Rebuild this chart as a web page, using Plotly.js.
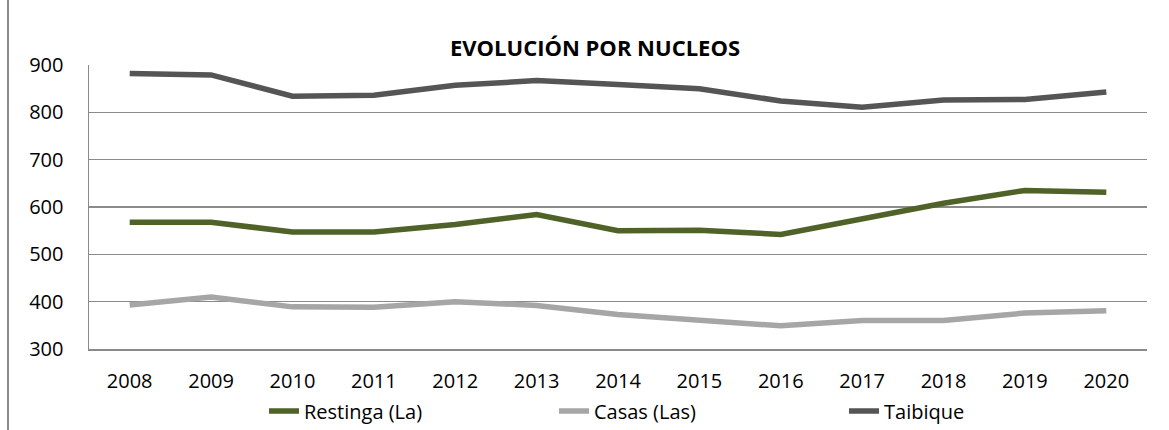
<!DOCTYPE html>
<html>
<head>
<meta charset="utf-8">
<script src="https://cdn.plot.ly/plotly-3.0.1.min.js"></script>
<style>
html,body{margin:0;padding:0;background:#fff;}
#frame{position:absolute;left:7px;top:0;width:1162px;height:430px;border-left:2px solid #8a8a8a;}
#chart{position:absolute;left:0;top:0;width:1169px;height:430px;}
</style>
</head>
<body>
<div id="frame"></div>
<div id="chart"></div>
<script>
const years = ['2008','2009','2010','2011','2012','2013','2014','2015','2016','2017','2018','2019','2020'];
const restinga = [568, 568, 547, 547, 563, 584, 550, 551, 542, 575, 608, 635, 631];
const casas    = [393, 410, 389, 388, 400, 392, 373, 361, 349, 360, 360, 376, 381];
const taibique = [882, 879, 834, 836, 857, 867, 859, 850, 824, 811, 826, 827, 843];
const seriesNames = ['Restinga (La)', 'Casas (Las)', 'Taibique'];
const seriesColors = ['#4F6228', '#A6A6A6', '#555555'];
const seriesValues = [restinga, casas, taibique];

const FONT = 'Open Sans, Liberation Sans, sans-serif';

const traces = seriesValues.map((vals, i) => ({
  type: 'scatter',
  mode: 'lines',
  x: years,
  y: vals,
  name: seriesNames[i],
  line: {color: seriesColors[i], width: 5.5},
  hoverinfo: 'x+y+name'
}));

const layout = {
  width: 1169,
  height: 430,
  margin: {l: 89, r: 22, t: 65, b: 81, pad: 0, autoexpand: false},
  paper_bgcolor: 'rgba(0,0,0,0)',
  plot_bgcolor: '#ffffff',
  font: {family: FONT, size: 20, color: '#000'},
  title: {
    text: 'EVOLUCIÓN POR NUCLEOS',
    font: {family: FONT, size: 22, color: '#000', weight: 'bold'},
    x: 595/1169, xanchor: 'center',
    y: 1 - 48/430, yanchor: 'middle'
  },
  xaxis: {
    type: 'category',
    range: [-0.5, years.length - 0.5],
    showgrid: false,
    showline: true,
    linecolor: '#8a8a8a',
    linewidth: 1.5,
    ticks: '',
    ticklabelstandoff: 13,
    tickfont: {family: FONT, size: 20, color: '#000'},
    zeroline: false,
    fixedrange: true
  },
  yaxis: {
    range: [300, 900],
    dtick: 100,
    tick0: 300,
    showgrid: true,
    gridcolor: '#8a8a8a',
    gridwidth: 1.5,
    showline: true,
    linecolor: '#8a8a8a',
    linewidth: 1.5,
    ticks: '',
    ticklabelstandoff: 20,
    tickfont: {family: FONT, size: 20, color: '#000'},
    zeroline: false,
    fixedrange: true
  },
  showlegend: true,
  legend: {
    orientation: 'h',
    x: (264-89)/1058,
    xanchor: 'left',
    y: -((411-349)/284),
    yanchor: 'middle',
    entrywidth: 245,
    entrywidthmode: 'pixels',
    font: {family: FONT, size: 20, color: '#000'},
    bgcolor: 'rgba(0,0,0,0)'
  }
};

Plotly.newPlot('chart', traces, layout, {displayModeBar: false, staticPlot: true});
</script>
</body>
</html>
